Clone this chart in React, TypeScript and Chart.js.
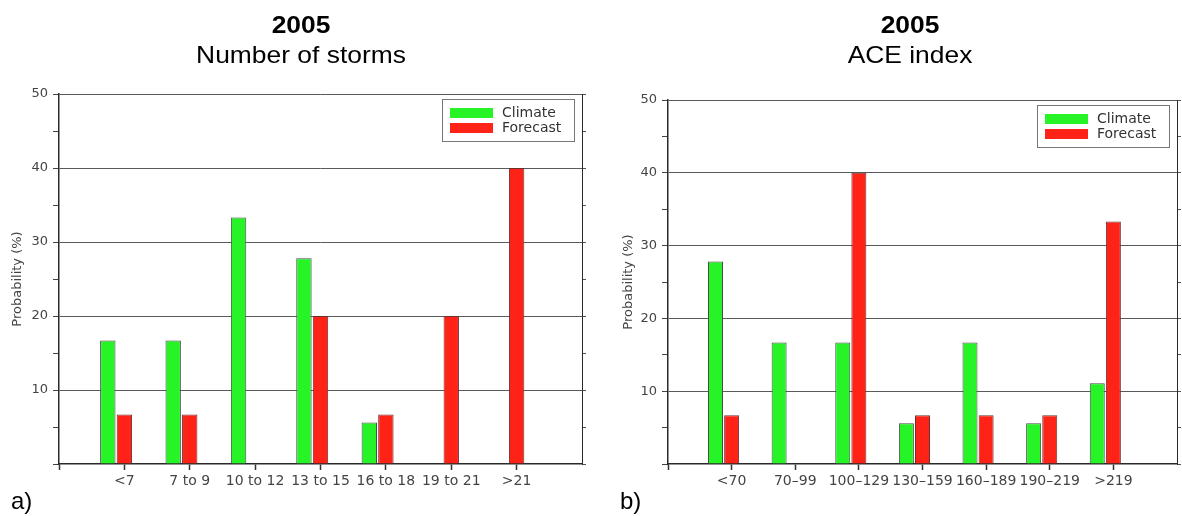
import React, { useEffect, useRef } from "react";
import { Chart, registerables } from "chart.js";

Chart.register(...registerables);

// ---------- data ----------
const stormCategories = ["<7", "7 to 9", "10 to 12", "13 to 15", "16 to 18", "19 to 21", ">21"];
const stormClimate = [16.7, 16.7, 33.3, 27.8, 5.6, 0, 0];
const stormForecast = [6.7, 6.7, 0, 20, 6.7, 20, 40];

const aceCategories = ["<70", "70\u201399", "100\u2013129", "130\u2013159", "160\u2013189", "190\u2013219", ">219"];
const aceClimate = [27.8, 16.7, 16.7, 5.6, 16.7, 5.6, 11.1];
const aceForecast = [6.7, 0, 40, 6.7, 6.7, 6.7, 33.3];

const yMin = 0;
const yMax = 50;
const yMinorStep = 5;
const yMajorStep = 10;

const seriesNames = ["Climate", "Forecast"];
const GREEN = "#26f426";
const RED = "#ff2216";

// ---------- legend plugin (boxed, inside plot, top right) ----------
const boxLegend = {
  id: "boxLegend",
  afterDraw(chart: any) {
    const { ctx, chartArea } = chart;
    const ds = chart.data.datasets.filter((d: any) => d.label);
    const w = 132;
    const h = 42;
    const x = Math.round(chartArea.right - 8 - w);
    const y = Math.round(chartArea.top + 5);
    ctx.save();
    ctx.strokeStyle = "#777";
    ctx.lineWidth = 1;
    ctx.strokeRect(x + 0.5, y + 0.5, w, h);
    ctx.font = '14px "DejaVu Sans"';
    ctx.textBaseline = "middle";
    ctx.textAlign = "left";
    ds.forEach((d: any, i: number) => {
      const sy = y + 9 + i * 15;
      ctx.fillStyle = d.backgroundColor;
      ctx.fillRect(x + 8, sy, 43, 10);
      ctx.fillStyle = "#333";
      ctx.fillText(d.label, x + 60, sy + 5.5);
    });
    ctx.restore();
  },
};

type Layout = {
  width: number;
  height: number;
  top: number;
  bottom: number;
  leftAxisW: number;
  rightAxisW: number;
  titlePad: number;
};

function makeConfig(cats: string[], climate: number[], forecast: number[], L: Layout): any {
  const labels = ["", ...cats, ""];
  const pad = (arr: number[]) => [null, ...arr, null];
  const lastIndex = labels.length - 1;
  return {
    type: "bar",
    data: {
      labels,
      datasets: [
        {
          label: seriesNames[0],
          data: pad(climate),
          backgroundColor: GREEN,
          borderColor: "#4a4a4a",
          borderWidth: 1,
        },
        {
          label: seriesNames[1],
          data: pad(forecast),
          backgroundColor: RED,
          borderColor: "#6a3030",
          borderWidth: 1,
        },
        {
          label: "",
          data: labels.map(() => null),
          backgroundColor: "rgba(0,0,0,0)",
          borderWidth: 0,
        },
      ],
    },
    options: {
      animation: false,
      responsive: false,
      maintainAspectRatio: false,
      layout: { padding: { top: L.top, left: 0, right: 0, bottom: 0 } },
      datasets: { bar: { categoryPercentage: 0.76, barPercentage: 0.93 } },
      plugins: {
        legend: { display: false },
        title: { display: false },
        tooltip: { enabled: false },
      },
      scales: {
        x: {
          type: "category",
          offset: false,
          grid: {
            offset: false,
            drawOnChartArea: false,
            drawTicks: true,
            tickLength: 6,
            tickWidth: 1.5,
            tickColor: (c: any) => (c.index === lastIndex ? "rgba(0,0,0,0)" : "#333"),
            color: "rgba(0,0,0,0)",
          },
          border: { display: true, color: "#2a2a2a", width: 1.5 },
          ticks: {
            autoSkip: false,
            maxRotation: 0,
            minRotation: 0,
            padding: 3,
            color: "#444",
            font: { family: "DejaVu Sans", size: 14 },
          },
          afterFit: (s: any) => {
            s.height = L.bottom;
          },
        },
        y: {
          position: "left",
          min: yMin,
          max: yMax,
          grid: {
            drawTicks: true,
            tickLength: 6,
            color: (c: any) =>
              c.tick && c.tick.value % yMajorStep === 0 && c.tick.value > yMin ? "#5a5a5a" : "rgba(0,0,0,0)",
            tickColor: "#444",
            lineWidth: 1,
          },
          border: { display: true, color: "#2a2a2a", width: 1.5 },
          ticks: {
            stepSize: yMinorStep,
            padding: 5,
            color: "#444",
            font: { family: "DejaVu Sans", size: 13 },
            callback: (v: any) => (v % yMajorStep === 0 && v > yMin ? String(v) : ""),
          },
          title: {
            display: true,
            text: "Probability (%)",
            color: "#444",
            font: { family: "DejaVu Sans", size: 13 },
            padding: { top: L.titlePad, bottom: 0 },
          },
          afterFit: (s: any) => {
            s.width = L.leftAxisW;
          },
        },
        y2: {
          position: "right",
          min: yMin,
          max: yMax,
          grid: { drawOnChartArea: false, drawTicks: true, tickLength: 4, tickColor: "#555", color: "#555" },
          border: { display: true, color: "#2a2a2a", width: 1 },
          ticks: { stepSize: yMinorStep, display: false },
          afterFit: (s: any) => {
            s.width = L.rightAxisW;
          },
        },
      },
    },
    plugins: [boxLegend],
  };
}

function BarPanel(props: {
  left: number;
  cats: string[];
  climate: number[];
  forecast: number[];
  layout: Layout;
}) {
  const ref = useRef<HTMLCanvasElement | null>(null);
  useEffect(() => {
    if (!ref.current) return;
    const chart = new Chart(ref.current, makeConfig(props.cats, props.climate, props.forecast, props.layout));
    return () => chart.destroy();
  }, []);
  const L = props.layout;
  return (
    <canvas
      ref={ref}
      width={L.width}
      height={L.height}
      style={{ position: "absolute", left: props.left, top: 0, width: L.width, height: L.height }}
    />
  );
}

const titleStyle = (center: number): React.CSSProperties => ({
  position: "absolute",
  left: center - 200,
  width: 400,
  top: 10,
  textAlign: "center",
  fontSize: 24,
  lineHeight: "30px",
  color: "#000",
  transform: "scaleX(1.1)",
  transformOrigin: "center",
  whiteSpace: "nowrap",
});

const panelLabelStyle = (left: number): React.CSSProperties => ({
  position: "absolute",
  left,
  top: 486,
  fontSize: 24,
  lineHeight: "30px",
  color: "#000",
});

export default function App() {
  const leftLayout: Layout = {
    width: 604,
    height: 516,
    top: 94,
    bottom: 52,
    leftAxisW: 59,
    rightAxisW: 22,
    titlePad: 10,
  };
  const rightLayout: Layout = {
    width: 578,
    height: 516,
    top: 100,
    bottom: 52,
    leftAxisW: 64,
    rightAxisW: 5,
    titlePad: 17,
  };
  return (
    <div
      style={{
        position: "absolute",
        left: 0,
        top: 0,
        width: 1182,
        height: 516,
        background: "#fff",
        overflow: "hidden",
        fontFamily: '"Liberation Sans", Arial, sans-serif',
      }}
    >
      <BarPanel left={0} cats={stormCategories} climate={stormClimate} forecast={stormForecast} layout={leftLayout} />
      <BarPanel left={604} cats={aceCategories} climate={aceClimate} forecast={aceForecast} layout={rightLayout} />
      <div style={titleStyle(301)}>
        <div style={{ fontWeight: "bold" }}>2005</div>
        <div>Number of storms</div>
      </div>
      <div style={titleStyle(910)}>
        <div style={{ fontWeight: "bold" }}>2005</div>
        <div>ACE index</div>
      </div>
      <div style={panelLabelStyle(11)}>a)</div>
      <div style={panelLabelStyle(620)}>b)</div>
    </div>
  );
}
